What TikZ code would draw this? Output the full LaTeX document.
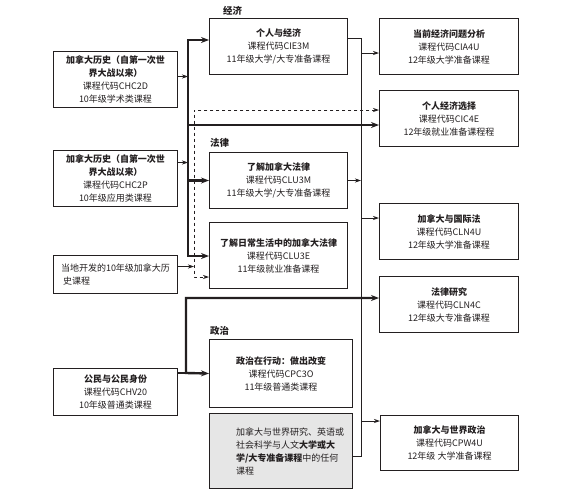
\documentclass[tikz,border=0pt]{standalone}
\usepackage{fontspec}
\setmainfont{Noto Sans CJK SC}
\usetikzlibrary{arrows.meta,positioning}
\definecolor{CourseInk}{HTML}{231F20}
\definecolor{CourseGray}{HTML}{E6E6E6}

\begin{document}
\begin{tikzpicture}[x=1pt, y=-1pt, every node/.style={font=\fontsize{9}{13}\selectfont, text=CourseInk}, box/.style={draw=CourseInk, line width=1pt, anchor=north west, align=center, inner sep=2pt}, head/.style={font=\fontsize{9.5}{13}\selectfont\bfseries, anchor=west, inner sep=0pt}, arrow/.style={-{Stealth[length=6pt,width=4pt]}, line width=0.8pt, draw=CourseInk}, thinline/.style={line width=0.8pt, draw=CourseInk}, bigline/.style={line width=2.4pt, draw=CourseInk}, bigarrow/.style={-{Stealth[length=8pt,width=6pt]}, bigline}, bigboth/.style={{Stealth[length=8pt,width=6pt]}-{Stealth[length=8pt,width=6pt]}, bigline}, dashboth/.style={{Stealth[length=6pt,width=4pt]}-{Stealth[length=6pt,width=4pt]}, line width=0.8pt, dashed, draw=CourseInk}, indented/.style={execute at begin node={\setlength{\leftskip}{18pt}}}]
\useasboundingbox (0,0) rectangle (571,493);
% grade 10
\node[box, minimum width=124, minimum height=56] (chc2d) at (53,51) {\textbf{加拿大历史（自第一次世}\\\textbf{界大战以来）}\\课程代码CHC2D\\10年级学术类课程};
\node[box, minimum width=124, minimum height=56] (chc2p) at (53,150) {\textbf{加拿大历史（自第一次世}\\\textbf{界大战以来）}\\课程代码CHC2P\\10年级应用类课程};
\node[box, minimum width=124, minimum height=38, align=left] (local) at (53,255) {当地开发的10年级加拿大历\\\ 史课程};
\node[box, minimum width=124, minimum height=47] (chv20) at (53,368) {\textbf{公民与公民身份}\\课程代码CHV20\\10年级普通类课程};
% grade 11
\node[head] (econ) at (223,11) {经济};
\node[box, minimum width=138, minimum height=56] (cie3m) at (209,18) {\textbf{个人与经济}\\课程代码CIE3M\\11年级大学/大专准备课程};
\node[head] (law) at (210,143) {法律};
\node[box, minimum width=138, minimum height=56] (clu3m) at (209,152) {\textbf{了解加拿大法律}\\课程代码CLU3M\\11年级大学/大专准备课程};
\node[box, minimum width=138, minimum height=66] (clu3e) at (209,222) {\textbf{了解日常生活中的加拿大法律}\\课程代码CLU3E\\11年级就业准备课程};
\node[head] (polit) at (210,331) {政治};
\node[box, minimum width=143, minimum height=68] (cpc3o) at (209,339) {\textbf{政治在行动：做出改变}\\课程代码CPC3O\\11年级普通类课程};
\node[box, fill=CourseGray, minimum width=143, minimum height=75, text width=126pt, align=left, indented] (other) at (209,413) {加拿大与世界研究、英语或\\社会科学与人文\textbf{大学或大}\\\textbf{学/大专准备课程}中的任何\\课程};
% grade 12
\node[box, minimum width=139, minimum height=56] (cia4u) at (379,18) {\textbf{当前经济问题分析}\\课程代码CIA4U\\12年级大学准备课程};
\node[box, minimum width=139, minimum height=56] (cic4e) at (379,90) {\textbf{个人经济选择}\\课程代码CIC4E\\12年级就业准备课程程};
\node[box, minimum width=139, minimum height=56] (cln4u) at (379,203) {\textbf{加拿大与国际法}\\课程代码CLN4U\\12年级大学准备课程};
\node[box, minimum width=139, minimum height=56] (cln4c) at (379,276) {\textbf{法律研究}\\课程代码CLN4C\\12年级大专准备课程};
\node[box, minimum width=138, minimum height=55] (cpw4u) at (380,415) {\textbf{加拿大与世界政治}\\课程代码CPW4U\\12年级 大学准备课程};
% junctions
\coordinate (ltop) at (188,40);
\coordinate (lcic) at (188,125);
\coordinate (lbot) at (188,256);
\coordinate (dtop) at (194,110);
\coordinate (dbot) at (194,277);
\coordinate (cj) at (186,373);
\coordinate (ctop) at (186,298);
\coordinate (rtop) at (361,38);
\coordinate (rbot) at (361,456);
\coordinate (r1) at (361,53);
\coordinate (r2) at (361,218);
\coordinate (r3) at (361,421);
% connectors
\draw[bigboth] (ltop -| cie3m.west) -- (ltop) -- (lbot) -- (lbot -| clu3e.west);
\draw[bigarrow] (clu3m.west -| ltop) -- (clu3m.west);
\draw[bigarrow] (lcic) -- (lcic -| cic4e.west);
\draw[dashboth] (dtop -| cic4e.west) -- (dtop) -- (dbot) -- (dbot -| clu3e.west);
\draw[arrow] ([yshift=3pt]chc2d.east) -- ([yshift=3pt]chc2d.east -| ltop);
\draw[arrow] ([yshift=16pt]chc2p.east) -- ([yshift=16pt]chc2p.east -| ltop);
\draw[arrow] ([yshift=8pt]local.east) -- ([yshift=8pt]local.east -| dtop);
\draw[bigline] (chv20.east |- cj) -- (cj);
\draw[bigboth] (cpc3o.west) -- (cj) -- (ctop) -- (ctop -| cln4c.west);
\draw[thinline] (rtop -| cie3m.east) -- (rtop) -- (rbot) -- (rbot -| other.east);
\draw[arrow] (r1) -- (r1 -| cia4u.west);
\draw[arrow] (clu3m.east) -- (clu3m.east -| rtop);
\draw[arrow] (r2) -- (r2 -| cln4u.west);
\draw[arrow] (r3) -- (r3 -| cpw4u.west);
\end{tikzpicture}
\end{document}
